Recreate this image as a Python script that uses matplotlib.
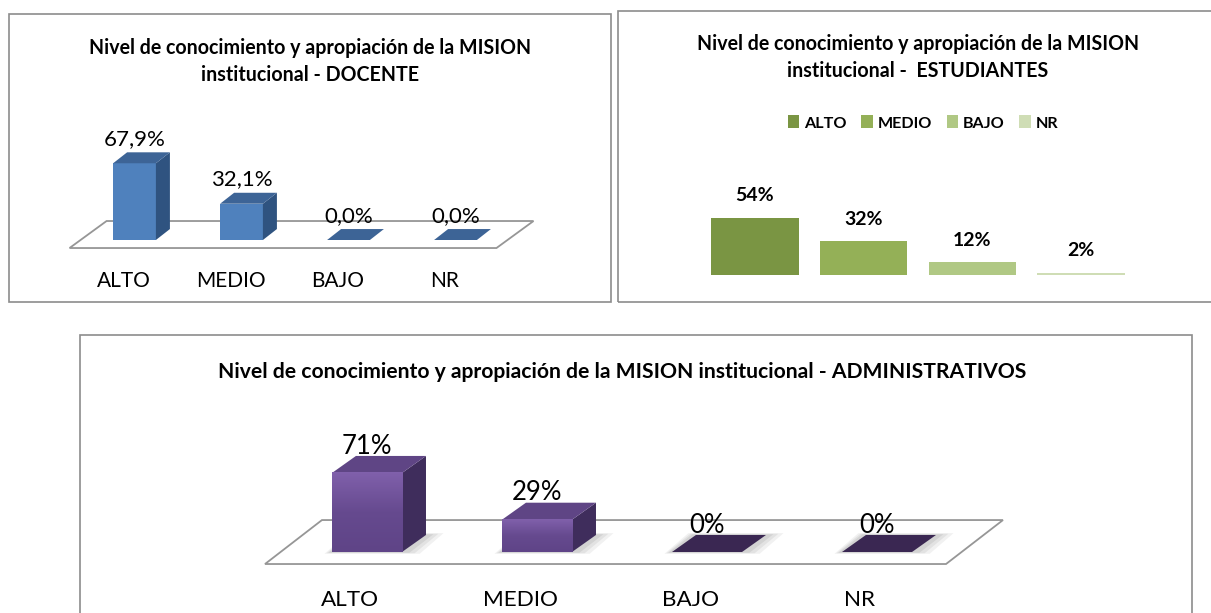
from matplotlib import pyplot as plt
from matplotlib.colors import LinearSegmentedColormap
from matplotlib.patches import Polygon, Rectangle
import numpy as np

W, H = 1211, 613

categorias = ['ALTO', 'MEDIO', 'BAJO', 'NR']

docente = [67.9, 32.1, 0.0, 0.0]
docente_txt = ['67,9%', '32,1%', '0,0%', '0,0%']

estudiantes = [54, 32, 12, 2]
estudiantes_txt = ['54%', '32%', '12%', '2%']
verdes = ['#7a9543', '#94b057', '#b0c884', '#cfddb5']

administrativos = [71, 29, 0, 0]
administrativos_txt = ['71%', '29%', '0%', '0%']

plt.rcParams['font.family'] = ['Lato', 'DejaVu Sans']

fig = plt.figure(figsize=(W / 100, H / 100), dpi=100)


def frame(x0, y0, x1, y1):
    r = Rectangle((x0 / W, 1 - y1 / H), (x1 - x0) / W, (y1 - y0) / H, transform=fig.transFigure,
                  fc='none', ec='#8c8c8c', lw=1.2)
    fig.add_artist(r)


def px_text(x, y, s, size, weight='bold', **kw):
    fig.text(x / W, 1 - y / H, s, ha='center', va='center', fontsize=size, fontweight=weight,
             color='black', **kw)


# axes whose data units are category index (x) and percent (y)
def panel_axes(left, right, top, bottom, x_first, x_step, y_base, y_scale):
    ax = fig.add_axes([left / W, 1 - bottom / H, (right - left) / W, (bottom - top) / H])
    ax.set_xlim((left - x_first) / x_step, (right - x_first) / x_step)
    ax.set_ylim((y_base - bottom) / y_scale, (y_base - top) / y_scale)
    ax.set_autoscale_on(False)
    ax.axis('off')
    return ax


def bars_3d(ax, values, width, dx, dy, front, side, top, plate=None, gradient=None):
    for i, v in enumerate(values):
        x0, x1 = i - width / 2, i + width / 2
        if v == 0:
            ax.add_patch(Polygon([(x0, 0), (x1, 0), (x1 + dx, dy), (x0 + dx, dy)],
                                 fc=plate or top, ec='none', zorder=4))
            continue
        ax.bar(i, v, width=width, color=front, zorder=4)
        if gradient is not None:
            ax.imshow(np.linspace(0, 1, 64).reshape(-1, 1), extent=(x0, x1, 0, v), aspect='auto',
                      cmap=gradient, origin='upper', zorder=4.1)
        ax.add_patch(Polygon([(x1, 0), (x1 + dx, dy), (x1 + dx, v + dy), (x1, v)],
                             fc=side, ec='none', zorder=4))
        ax.add_patch(Polygon([(x0, v), (x1, v), (x1 + dx, v + dy), (x0 + dx, v + dy)],
                             fc=top, ec='none', zorder=4))


def floor(ax, x0, x1, y0, skew, depth):
    ax.add_patch(Polygon([(x0, y0), (x1, y0), (x1 + skew, y0 + depth), (x0 + skew, y0 + depth)],
                         fc='white', ec='#969696', lw=1.3, zorder=1))


# ---- DOCENTE
frame(9, 14, 611, 302)
px_text(310, 48, 'Nivel de conocimiento y apropiación de la MISION', 14.1)
px_text(310, 75, 'institucional - DOCENTE', 14.1)

ax1 = panel_axes(40, 560, 100, 300, 134.5, 107, 240, 1.13)
floor(ax1, -0.607, 3.383, -7.1, 0.346, 23.9)
bars_3d(ax1, docente, 0.4, 0.131, 9.7, '#4f81bd', '#2f5380', '#3d6496')
for i, v in enumerate(docente):
    ax1.text(i, v + 9.7 + 11.8, docente_txt[i], ha='center', va='center', fontsize=16, zorder=6)
    ax1.text(i - 0.1, -36.2, categorias[i], ha='center', va='center', fontsize=15, zorder=6)

# ---- ESTUDIANTES
frame(618, 11, 1218, 302)
px_text(918, 44, 'Nivel de conocimiento y apropiación de la MISION', 14.1)
px_text(918, 71, 'institucional -  ESTUDIANTES', 14.1)

ax2 = panel_axes(640, 1200, 100, 300, 755, 108.7, 275, 1.056)
bars2 = ax2.bar(range(4), estudiantes, width=0.805, color=verdes, zorder=3)
for i, v in enumerate(estudiantes):
    ax2.text(i, v + 21, estudiantes_txt[i], ha='center', va='center', fontsize=14,
             fontweight='bold')
ax2.legend(bars2, categorias, ncol=4, frameon=False, loc='center', prop={'weight': 'bold', 'size': 11.6},
           bbox_to_anchor=((923 - 640) / 560, (300 - 123) / 200),
           handlelength=0.72, handleheight=0.85, handletextpad=0.3, columnspacing=0.9, borderpad=0)

# ---- ADMINISTRATIVOS
frame(80, 335, 1192, 625)
px_text(622, 372, 'Nivel de conocimiento y apropiación de la MISION institucional - ADMINISTRATIVOS', 15.2)

ax3 = panel_axes(230, 1060, 420, 612, 367, 170, 552, 1.113)
floor(ax3, -0.6, 3.406, -10.8, 0.335, 39.5)
morado = LinearSegmentedColormap.from_list('morado', ['#8060ab', '#664a8f', '#5f4487'])

# soft shadow around the feet of the bars
for i in range(4):
    for k, alpha in zip([0.10, 0.07, 0.04], [0.10, 0.12, 0.15]):
        ax3.add_patch(Polygon([(i - 0.21 - k * 0.4, -k * 16), (i + 0.21 + k, -k * 16),
                               (i + 0.35 + k, 15.3 + k * 16), (i - 0.07 - k * 0.4, 15.3 + k * 16)],
                              fc='#777777', ec='none', alpha=alpha, zorder=2))

bars_3d(ax3, administrativos, 0.412, 0.141, 15.3, '#6d4f98', '#3f2d5c', '#5f4585', plate='#3a2752',
        gradient=morado)
for i, v in enumerate(administrativos):
    ax3.text(i, v + 15.3 + 8.8, administrativos_txt[i], ha='center', va='center', fontsize=18.5, zorder=6)
    ax3.text(i - 0.1, -42.8, categorias[i], ha='center', va='center', fontsize=16.2, zorder=6)

plt.savefig('out.png', dpi=100)
plt.close()
